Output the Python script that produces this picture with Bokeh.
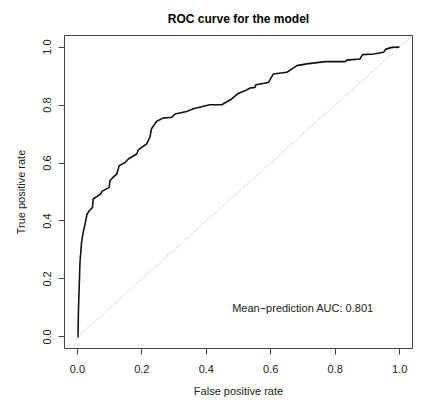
from bokeh.plotting import figure
from bokeh.models import Range1d, FixedTicker, PrintfTickFormatter, Slope, Label
from bokeh.embed import file_html
from bokeh.resources import INLINE

# ROC curve points (false positive rate, true positive rate)
fpr = [0.0, 0.002, 0.003, 0.008, 0.013, 0.018, 0.024, 0.030, 0.039, 0.047, 0.049,
       0.060, 0.072, 0.076, 0.099, 0.101, 0.111, 0.122, 0.130, 0.148, 0.158,
       0.184, 0.189, 0.215, 0.225, 0.230, 0.246, 0.266, 0.293, 0.303, 0.339,
       0.360, 0.411, 0.448, 0.479, 0.499, 0.525, 0.536, 0.551, 0.554, 0.593,
       0.608, 0.650, 0.681, 0.712, 0.769, 0.831, 0.836, 0.877, 0.885, 0.919,
       0.950, 0.958, 0.976, 1.0]
tpr = [0.0, 0.0, 0.080, 0.256, 0.327, 0.361, 0.390, 0.424, 0.438, 0.447, 0.476,
       0.484, 0.493, 0.502, 0.516, 0.539, 0.551, 0.562, 0.591, 0.602, 0.614,
       0.631, 0.645, 0.666, 0.689, 0.718, 0.744, 0.755, 0.758, 0.769, 0.778,
       0.787, 0.801, 0.801, 0.821, 0.840, 0.852, 0.859, 0.861, 0.870, 0.878,
       0.907, 0.913, 0.936, 0.942, 0.950, 0.950, 0.955, 0.959, 0.974, 0.976,
       0.982, 0.993, 0.999, 1.0]
tick_values = [0.0, 0.2, 0.4, 0.6, 0.8, 1.0]
auc_text = "Mean\u2212prediction AUC: 0.801"
title_text = "ROC curve for the model"

FONT = "Liberation Sans"

p = figure(width=422, height=403, output_backend="svg", toolbar_location=None,
           x_range=Range1d(-0.04, 1.04), y_range=Range1d(-0.04, 1.04),
           min_border_left=64, min_border_right=10, min_border_top=35,
           min_border_bottom=55, title=title_text)

p.title.align = "center"
p.title.text_font = FONT
p.title.text_font_size = "12px"
p.title.text_font_style = "bold"
p.title.text_color = "#000000"
p.title.standoff = 19

p.background_fill_color = "white"
p.border_fill_color = "white"
p.outline_line_color = "#444444"
p.outline_line_width = 1
p.xgrid.visible = False
p.ygrid.visible = False

for ax in (p.xaxis[0], p.yaxis[0]):
    ax.ticker = FixedTicker(ticks=tick_values)
    ax.formatter = PrintfTickFormatter(format="%.1f")
    ax.axis_line_color = None
    ax.major_tick_line_color = "#444444"
    ax.major_tick_out = 6
    ax.major_tick_in = 0
    ax.minor_tick_line_color = None
    ax.major_label_text_font = FONT
    ax.major_label_text_font_size = "11px"
    ax.major_label_text_color = "#222222"
    ax.axis_label_text_font = FONT
    ax.axis_label_text_font_size = "11px"
    ax.axis_label_text_font_style = "normal"
    ax.axis_label_text_color = "#222222"

p.xaxis.axis_label = "False positive rate"
p.yaxis.axis_label = "True positive rate"
p.xaxis.major_label_standoff = 10
p.xaxis.axis_label_standoff = 9
p.yaxis.major_label_orientation = "vertical"
p.yaxis.major_label_standoff = 7
p.yaxis.axis_label_standoff = 14

p.add_layout(Slope(gradient=1, y_intercept=0, line_color="#aaaaaa",
                   line_width=1, line_dash="1 2"))

p.line(fpr, tpr, line_color="#111111", line_width=1.6)

p.add_layout(Label(x=0.7, y=0.1, text=auc_text, text_font=FONT,
                   text_font_size="11px", text_color="#222222",
                   text_align="center", text_baseline="middle"))

html = file_html(p, INLINE)
open("out.html", "w").write(html)
